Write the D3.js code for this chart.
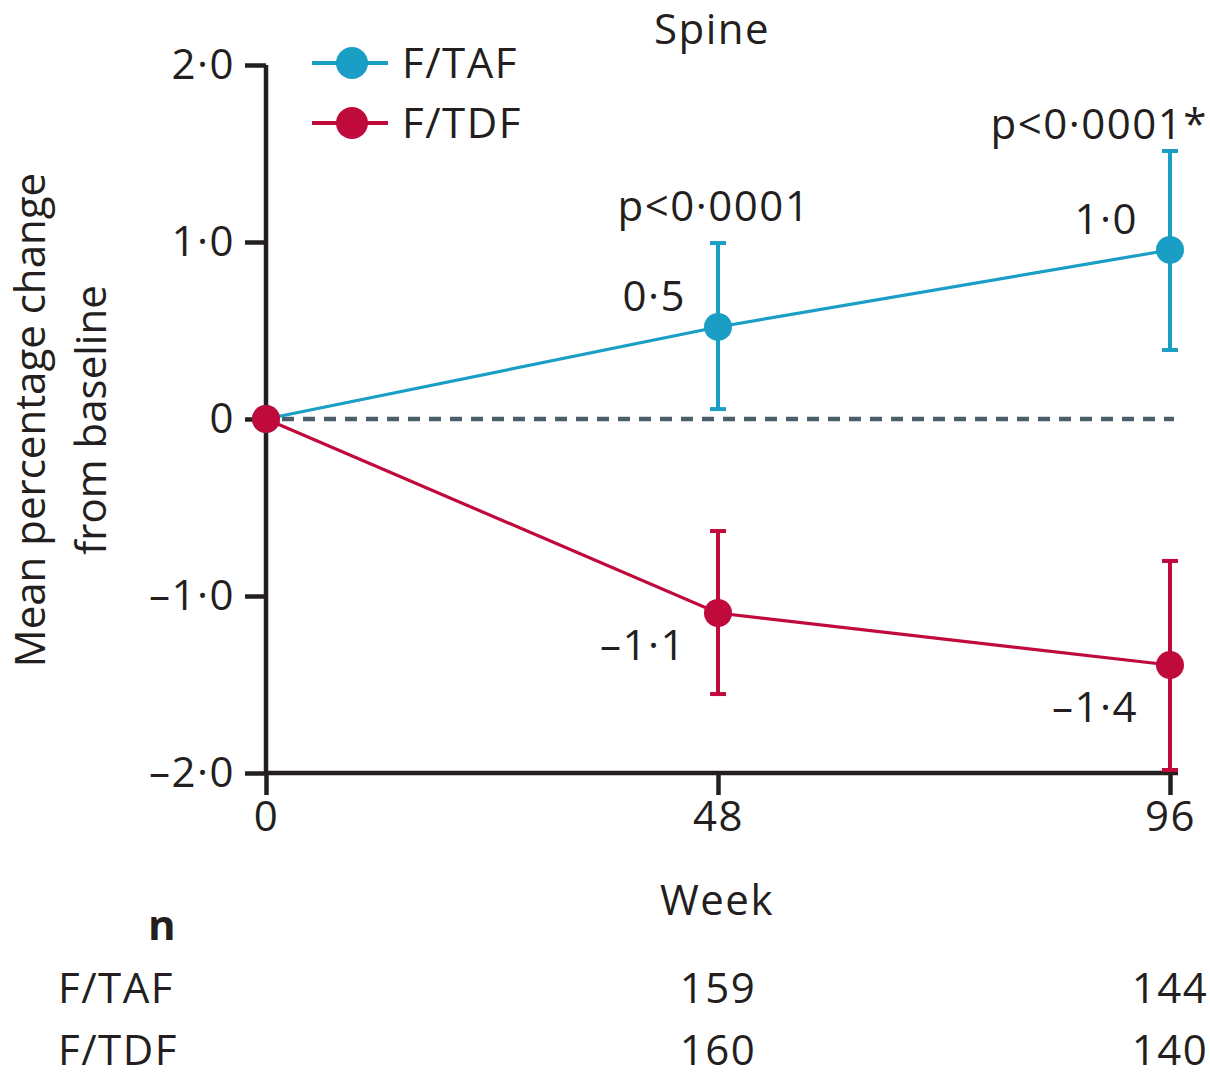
<!DOCTYPE html>
<html><head><meta charset="utf-8">
<script src="https://cdn.jsdelivr.net/npm/d3@7"></script>
<style>
body{margin:0;background:#fff;}
text{font-family:"Open Sans",sans-serif;fill:#231f20;letter-spacing:1.5px;}
</style></head>
<body><svg id="c" width="1210" height="1076"></svg>
<script>
// ---- data ----
const weeks = [0, 48, 96];
const xTickLabels = ["0", "48", "96"];
const yTicks = [-2, -1, 0, 1, 2];
const yTickLabels = ["–2·0", "–1·0", "0", "1·0", "2·0"];
const seriesNames = ["F/TAF", "F/TDF"];
const tafMean = [0, 0.52, 0.955];
const tafLow = [null, 0.056, 0.39];
const tafHigh = [null, 0.994, 1.514];
const tdfMean = [0, -1.096, -1.39];
const tdfLow = [null, -1.554, -1.983];
const tdfHigh = [null, -0.633, -0.802];
const tafLabels = ["", "0·5", "1·0"];
const tdfLabels = ["", "–1·1", "–1·4"];
const pLabels = ["", "p<0·0001", "p<0·0001*"];
const nWeeks = [48, 96];
const tafN = ["159", "144"];
const tdfN = ["160", "140"];

const colors = {taf: "#1a9ec6", tdf: "#c00a3c"};
const svg = d3.select("#c");
const x = d3.scaleLinear().domain([0, 96]).range([266, 1170]);
const y = d3.scaleLinear().domain([-2, 2]).range([773, 65]);
const FS = 42;

// title
svg.append("text").attr("x", 712).attr("y", 44).attr("text-anchor", "middle")
  .attr("font-size", FS).text("Spine");

// zero dashed line
svg.append("line").attr("x1", x(0)).attr("x2", x(96) + 4).attr("y1", y(0)).attr("y2", y(0))
  .attr("stroke", "#4b5f6a").attr("stroke-width", 4.5).attr("stroke-dasharray", "12,9")
  .attr("stroke-dashoffset", -16);

// axes
const yAxis = d3.axisLeft(y).tickValues(yTicks).tickSize(21).tickPadding(10).tickSizeOuter(0)
  .tickFormat((d, i) => yTickLabels[i]);
const gy = svg.append("g").attr("transform", `translate(${x(0)},0)`).call(yAxis);
const xAxis = d3.axisBottom(x).tickValues(weeks).tickSize(22).tickPadding(6).tickSizeOuter(0)
  .tickFormat((d, i) => xTickLabels[i]);
const gx = svg.append("g").attr("transform", `translate(0,${y(-2)})`).call(xAxis);
[gy, gx].forEach(g => {
  g.select(".domain").attr("stroke", "#231f20").attr("stroke-width", 4.5);
  g.selectAll(".tick line").attr("stroke", "#231f20").attr("stroke-width", 4.5);
  g.selectAll(".tick text").attr("font-size", FS).attr("font-family", "Open Sans").attr("fill", "#231f20");
});
gx.select(".domain").attr("d", `M${x(0)},0H${x(96) + 8}`);
gy.select(".domain").attr("d", `M0,${y(-2) + 2}V${y(2)}`);

// series
function drawSeries(mean, low, high, color) {
  const pts = weeks.map((w, i) => ({w, m: mean[i], lo: low[i], hi: high[i]}));
  const g = svg.append("g");
  pts.filter(p => p.lo !== null).forEach(p => {
    g.append("line").attr("x1", x(p.w)).attr("x2", x(p.w)).attr("y1", y(p.lo)).attr("y2", y(p.hi))
      .attr("stroke", color).attr("stroke-width", 4);
    [p.lo, p.hi].forEach(v => g.append("line").attr("x1", x(p.w) - 8).attr("x2", x(p.w) + 8)
      .attr("y1", y(v)).attr("y2", y(v)).attr("stroke", color).attr("stroke-width", 4));
  });
  g.append("path").datum(pts).attr("fill", "none").attr("stroke", color).attr("stroke-width", 3.2)
    .attr("d", d3.line().x(p => x(p.w)).y(p => y(p.m)));
  g.selectAll("circle").data(pts).join("circle").attr("cx", p => x(p.w)).attr("cy", p => y(p.m))
    .attr("r", 14).attr("fill", color);
}
drawSeries(tafMean, tafLow, tafHigh, colors.taf);
drawSeries(tdfMean, tdfLow, tdfHigh, colors.tdf);

// value labels
weeks.forEach((w, i) => {
  if (tafLabels[i]) svg.append("text").attr("x", x(w) - 32).attr("y", y(tafMean[i]) - 16)
    .attr("text-anchor", "end").attr("font-size", FS).text(tafLabels[i]);
  if (tdfLabels[i]) svg.append("text").attr("x", x(w) - 32).attr("y", y(tdfMean[i]) + (i === 1 ? 47 : 57))
    .attr("text-anchor", "end").attr("font-size", FS).text(tdfLabels[i]);
});
// p labels
svg.append("text").attr("x", x(48) - 4).attr("y", y(tafHigh[1]) - 22).attr("text-anchor", "middle")
  .attr("font-size", FS).text(pLabels[1]);
svg.append("text").attr("x", 1208).attr("y", y(tafHigh[2]) - 12).attr("text-anchor", "end")
  .attr("font-size", FS).text(pLabels[2]);

// legend
const leg = [{name: seriesNames[0], c: colors.taf, y: 63}, {name: seriesNames[1], c: colors.tdf, y: 123}];
leg.forEach(l => {
  svg.append("line").attr("x1", 312).attr("x2", 388).attr("y1", l.y).attr("y2", l.y)
    .attr("stroke", l.c).attr("stroke-width", 4);
  svg.append("circle").attr("cx", 352).attr("cy", l.y).attr("r", 16).attr("fill", l.c);
  svg.append("text").attr("x", 402).attr("y", l.y + 15).attr("font-size", FS).text(l.name);
});

// y label
const yl = svg.append("text").attr("transform", "translate(0,420) rotate(-90)")
  .attr("text-anchor", "middle").attr("font-size", FS).style("letter-spacing", "0px");
yl.append("tspan").attr("x", 0).attr("y", 45).text("Mean percentage change");
yl.append("tspan").attr("x", 0).attr("y", 106).text("from baseline");

// x label
svg.append("text").attr("x", 717).attr("y", 915).attr("text-anchor", "middle").attr("font-size", FS).text("Week");

// n table
svg.append("text").attr("x", 148).attr("y", 940).attr("font-size", FS).attr("font-weight", "bold").text("n");
svg.append("text").attr("x", 58).attr("y", 1003).attr("font-size", FS).text(seriesNames[0]);
svg.append("text").attr("x", 58).attr("y", 1065).attr("font-size", FS).text(seriesNames[1]);
nWeeks.forEach((w, i) => {
  svg.append("text").attr("x", x(w)).attr("y", 1003).attr("text-anchor", "middle").attr("font-size", FS).text(tafN[i]);
  svg.append("text").attr("x", x(w)).attr("y", 1065).attr("text-anchor", "middle").attr("font-size", FS).text(tdfN[i]);
});
</script></body></html>
